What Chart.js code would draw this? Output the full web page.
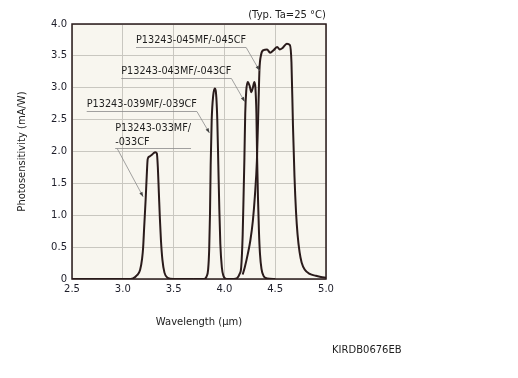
<!DOCTYPE html>
<html>
<head>
<meta charset="utf-8">
<script src="https://cdn.jsdelivr.net/npm/chart.js@4/dist/chart.umd.min.js"></script>
<style>
    html, body { margin: 0; padding: 0; background: #fff; }
    #wrap { width: 518px; height: 378px; position: relative; }
</style>
</head>
<body>
<div id="wrap"><canvas id="spectrum" width="518" height="378"></canvas></div>
<script>
/**
 * Spectral response of P13243 series (one curve per filter type).
 */

// ================= DATA =================
const xTicks = [2.5, 3.0, 3.5, 4.0, 4.5, 5.0];
const yTicks = [0, 0.5, 1.0, 1.5, 2.0, 2.5, 3.0, 3.5, 4.0];

const seriesNames = ['P13243-033MF/-033CF', 'P13243-039MF/-039CF', 'P13243-043MF/-043CF', 'P13243-045MF/-045CF'];

// 033
const wl033  = [2.5, 3.05, 3.10, 3.14, 3.17, 3.19, 3.20, 3.21, 3.225, 3.235, 3.245, 3.26, 3.28, 3.30, 3.32, 3.335, 3.345, 3.355, 3.365, 3.375, 3.39, 3.41, 3.44, 3.50, 3.70];
const val033 = [0,   0,    0.01, 0.06, 0.14, 0.32, 0.49, 0.80, 1.25,  1.60,  1.88,  1.92, 1.94, 1.97, 1.99, 1.97,  1.75,  1.35,  0.95,  0.62,  0.30, 0.10, 0.02, 0,    0];

// 039
const wl039  = [3.70, 3.80, 3.825, 3.84, 3.85, 3.858, 3.865, 3.875, 3.89, 3.905, 3.915, 3.93, 3.94, 3.95, 3.96, 3.975, 3.99, 4.02, 4.10];
const val039 = [0,    0,    0.04,  0.15, 0.45, 1.00,  1.80,  2.50,  2.88, 2.99,  2.95,  2.50, 1.80, 1.10, 0.55, 0.18,  0.05, 0,    0];

// 043
const wl043  = [4.05, 4.12, 4.15, 4.165, 4.18, 4.19, 4.197, 4.205, 4.215, 4.23, 4.25, 4.265, 4.28, 4.295, 4.305, 4.315, 4.322, 4.33, 4.34, 4.35, 4.365, 4.385, 4.42, 4.50];
const val043 = [0,    0.01, 0.08, 0.18,  0.70, 1.40, 1.90,  2.60,  2.95,  3.09, 3.02, 2.93,  3.00, 3.09,  3.00,  2.60,  1.90,  1.30, 0.75, 0.40, 0.16,  0.05,  0.01, 0];

// 045
const wl045  = [4.18, 4.20, 4.23, 4.255, 4.28, 4.30, 4.32, 4.335, 4.345, 4.36, 4.385, 4.42, 4.45, 4.485, 4.52, 4.545, 4.57, 4.615, 4.645, 4.66, 4.675, 4.69, 4.705, 4.72, 4.74, 4.76, 4.79, 4.84, 4.90, 4.95, 5.00];
const val045 = [0.07, 0.18, 0.39, 0.60,  0.91, 1.30, 1.86, 2.70,  3.28,  3.51, 3.59,  3.60, 3.55, 3.59,  3.64, 3.60,  3.62, 3.69,  3.67,  3.40, 2.40,  1.60, 1.05,  0.70, 0.42, 0.26, 0.15, 0.08, 0.05, 0.03, 0.02];

// ================= CONFIG =================
const CONFIG = {
    font: 'DejaVu Sans',
    lineColor: '#2a1b1b',
    plotBg: '#f8f6ef',
    gridColor: '#c9c7c0',
    leaderColor: '#8a8a8a'
};

// callouts: text lines, text anchor (data units), arrow tip
const callouts = [
    { lines: ['P13243-045MF/-045CF'], at: [3.13, 3.74], tip: [4.345, 3.27], from: 'right' },
    { lines: ['P13243-043MF/-043CF'], at: [2.985, 3.25], tip: [4.20, 2.78], from: 'right' },
    { lines: ['P13243-039MF/-039CF'], at: [2.645, 2.73], tip: [3.853, 2.29], from: 'right' },
    { lines: ['P13243-033MF/', '-033CF'], at: [2.925, 2.36], tip: [3.20, 1.29], from: 'left' }
];

function toPoints(xs, ys) {
    return xs.map((x, i) => ({ x: x, y: ys[i] }));
}

// ================= PLUGINS =================
const plotFrame = {
    id: 'plotFrame',
    beforeDraw(chart) {
        const { ctx, chartArea: a } = chart;
        ctx.save();
        ctx.fillStyle = CONFIG.plotBg;
        ctx.fillRect(a.left, a.top, a.right - a.left, a.bottom - a.top);
        ctx.restore();
    },
    afterDraw(chart) {
        const { ctx, chartArea: a, scales } = chart;
        ctx.save();
        ctx.strokeStyle = CONFIG.lineColor;
        ctx.lineWidth = 1.5;
        ctx.strokeRect(a.left, a.top, a.right - a.left, a.bottom - a.top);

        // extra texts
        ctx.fillStyle = '#1e1e1e';
        ctx.font = '10px "' + CONFIG.font + '"';
        ctx.textBaseline = 'middle';
        ctx.textAlign = 'right';
        ctx.fillText('(Typ. Ta=25 °C)', a.right, a.top - 9);
        ctx.textAlign = 'left';
        ctx.fillText('KIRDB0676EB', a.right + 6, a.bottom + 71);

        // callouts
        ctx.font = '9.7px "' + CONFIG.font + '"';
        const sx = scales.x, sy = scales.y;
        callouts.forEach(c => {
            const x0 = sx.getPixelForValue(c.at[0]);
            const y0 = sy.getPixelForValue(c.at[1]);
            let w = 0;
            c.lines.forEach((t, i) => {
                ctx.fillStyle = '#1e1e1e';
                ctx.fillText(t, x0, y0 + i * 13.5);
                w = Math.max(w, ctx.measureText(t).width);
            });
            const uy = Math.round(y0 + (c.lines.length - 1) * 13.5 + 6) + 0.5;
            const tx = sx.getPixelForValue(c.tip[0]);
            const ty = sy.getPixelForValue(c.tip[1]);
            const bx = c.from === 'right' ? x0 + w : x0 + 2;
            ctx.strokeStyle = CONFIG.leaderColor;
            ctx.lineWidth = 0.8;
            ctx.beginPath();
            ctx.moveTo(x0, uy);
            ctx.lineTo(x0 + w, uy);
            ctx.moveTo(bx, uy);
            ctx.lineTo(tx, ty);
            ctx.stroke();
            // arrow head
            const ang = Math.atan2(ty - uy, tx - bx);
            ctx.fillStyle = '#444';
            ctx.beginPath();
            ctx.moveTo(tx, ty);
            ctx.lineTo(tx - 5 * Math.cos(ang - 0.35), ty - 5 * Math.sin(ang - 0.35));
            ctx.lineTo(tx - 5 * Math.cos(ang + 0.35), ty - 5 * Math.sin(ang + 0.35));
            ctx.closePath();
            ctx.fill();
        });
        ctx.restore();
    }
};

// ================= CHART =================
function init() {
    const ctx = document.getElementById('spectrum').getContext('2d');
    const curves = [[wl033, val033], [wl039, val039], [wl043, val043], [wl045, val045]];

    new Chart(ctx, {
        type: 'line',
        data: {
            datasets: curves.map((c, i) => ({
                label: seriesNames[i],
                data: toPoints(c[0], c[1]),
                borderColor: CONFIG.lineColor,
                borderWidth: 2,
                pointRadius: 0,
                fill: false,
                cubicInterpolationMode: 'monotone'
            }))
        },
        options: {
            responsive: false,
            animation: false,
            layout: { padding: { left: 0, top: 24, right: 192, bottom: 44 } },
            plugins: {
                legend: { display: false },
                tooltip: { enabled: false }
            },
            scales: {
                x: {
                    type: 'linear',
                    min: 2.5,
                    max: 5.0,
                    afterBuildTicks: s => { s.ticks = xTicks.map(v => ({ value: v })); },
                    afterFit: s => { s.height = 55; },
                    grid: { color: CONFIG.gridColor, drawTicks: false },
                    border: { display: false },
                    ticks: {
                        padding: 4,
                        color: '#1e1e2a',
                        font: { family: CONFIG.font, size: 10 },
                        callback: v => v.toFixed(1)
                    },
                    title: {
                        display: true,
                        text: 'Wavelength (µm)',
                        color: '#222',
                        font: { family: CONFIG.font, size: 10 },
                        padding: { top: 0, bottom: 6 }
                    }
                },
                y: {
                    type: 'linear',
                    min: 0,
                    max: 4.0,
                    afterBuildTicks: s => { s.ticks = yTicks.map(v => ({ value: v })); },
                    afterFit: s => { s.width = 72; },
                    grid: { color: CONFIG.gridColor, drawTicks: false },
                    border: { display: false },
                    ticks: {
                        padding: 5,
                        color: '#1e1e2a',
                        font: { family: CONFIG.font, size: 10 },
                        callback: v => v === 0 ? '0' : v.toFixed(1)
                    },
                    title: {
                        display: true,
                        text: 'Photosensitivity (mA/W)',
                        color: '#222',
                        font: { family: CONFIG.font, size: 10 },
                        padding: { top: 16, bottom: 0 }
                    }
                }
            }
        },
        plugins: [plotFrame]
    });
}

window.addEventListener('DOMContentLoaded', init);
</script>
</body>
</html>
